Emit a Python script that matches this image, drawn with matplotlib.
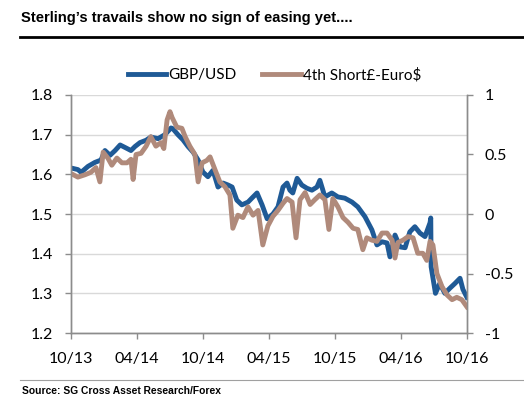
import pandas as pd
import matplotlib
matplotlib.use("Agg")
import matplotlib.pyplot as plt
import matplotlib.dates as mdates
from matplotlib.ticker import FormatStrFormatter, FixedLocator

plt.rcParams['axes.unicode_minus'] = False

# --- data ---
gbp_dates = [
    "2013-10-01", "2013-10-20", "2013-10-29", "2013-11-17", "2013-12-06", "2013-12-23",
    "2014-01-03", "2014-01-17", "2014-01-31", "2014-02-14", "2014-02-27", "2014-03-16",
    "2014-03-27", "2014-04-10", "2014-04-27", "2014-05-10", "2014-05-30", "2014-06-18",
    "2014-07-05", "2014-07-10", "2014-07-24", "2014-08-07", "2014-08-21", "2014-09-04",
    "2014-09-18", "2014-10-01", "2014-10-15", "2014-10-29", "2014-11-12", "2014-11-26",
    "2014-12-10", "2014-12-21", "2015-01-03", "2015-01-17", "2015-02-03", "2015-02-17",
    "2015-02-28", "2015-03-14", "2015-03-28", "2015-04-13", "2015-04-27", "2015-05-11",
    "2015-05-22", "2015-05-30", "2015-06-07", "2015-06-19", "2015-07-02", "2015-07-16",
    "2015-07-30", "2015-08-13", "2015-08-21", "2015-09-04", "2015-09-23", "2015-10-10",
    "2015-10-29", "2015-11-18", "2015-12-04", "2015-12-24", "2016-01-12", "2016-01-26",
    "2016-02-09", "2016-02-23", "2016-03-02", "2016-03-16", "2016-03-30", "2016-04-13",
    "2016-04-26", "2016-05-10", "2016-05-24", "2016-06-07", "2016-06-21", "2016-06-23",
    "2016-06-24", "2016-07-06", "2016-07-18", "2016-08-01", "2016-08-15", "2016-08-29",
    "2016-09-12", "2016-09-20", "2016-10-01",
]
gbp_usd = [
    1.616, 1.612, 1.605, 1.620, 1.630, 1.636,
    1.660, 1.648, 1.660, 1.674, 1.668, 1.660,
    1.670, 1.680, 1.686, 1.694, 1.690, 1.700,
    1.717, 1.715, 1.700, 1.687, 1.670, 1.656,
    1.636, 1.606, 1.594, 1.610, 1.568, 1.578,
    1.573, 1.568, 1.535, 1.523, 1.530, 1.543,
    1.553, 1.523, 1.488, 1.500, 1.518, 1.568,
    1.578, 1.560, 1.553, 1.590, 1.573, 1.565,
    1.560, 1.568, 1.585, 1.543, 1.553, 1.543,
    1.540, 1.530, 1.518, 1.493, 1.460, 1.422,
    1.430, 1.427, 1.392, 1.447, 1.417, 1.415,
    1.455, 1.468, 1.452, 1.443, 1.478, 1.490,
    1.367, 1.300, 1.325, 1.300, 1.313, 1.325,
    1.338, 1.310, 1.290,
]

spread_dates = [
    "2013-10-01", "2013-10-20", "2013-11-09", "2013-11-25", "2013-12-09", "2013-12-20",
    "2013-12-29", "2014-01-11", "2014-01-22", "2014-02-05", "2014-02-19", "2014-03-05",
    "2014-03-16", "2014-03-22", "2014-03-30", "2014-04-13", "2014-04-27", "2014-05-10",
    "2014-05-24", "2014-06-07", "2014-06-15", "2014-06-24", "2014-07-02", "2014-07-08",
    "2014-07-21", "2014-08-04", "2014-08-13", "2014-08-26", "2014-09-09", "2014-09-18",
    "2014-09-29", "2014-10-12", "2014-10-21", "2014-11-04", "2014-11-17", "2014-12-01",
    "2014-12-15", "2014-12-23", "2015-01-06", "2015-01-20", "2015-02-03", "2015-02-17",
    "2015-03-03", "2015-03-16", "2015-03-30", "2015-04-13", "2015-04-27", "2015-05-11",
    "2015-05-22", "2015-06-05", "2015-06-16", "2015-06-27", "2015-07-11", "2015-07-25",
    "2015-08-07", "2015-08-21", "2015-09-04", "2015-09-15", "2015-09-26", "2015-10-10",
    "2015-10-24", "2015-11-07", "2015-11-21", "2015-12-04", "2015-12-18", "2015-12-29",
    "2016-01-12", "2016-01-26", "2016-02-09", "2016-02-23", "2016-03-08", "2016-03-16",
    "2016-03-24", "2016-04-07", "2016-04-21", "2016-05-05", "2016-05-18", "2016-06-01",
    "2016-06-12", "2016-06-21", "2016-06-29", "2016-07-10", "2016-07-24", "2016-08-07",
    "2016-08-21", "2016-09-03", "2016-09-17", "2016-10-01",
]
short_spread = [
    0.34, 0.31, 0.33, 0.35, 0.39, 0.27,
    0.52, 0.47, 0.41, 0.47, 0.43, 0.43,
    0.46, 0.29, 0.50, 0.51, 0.57, 0.65,
    0.57, 0.60, 0.55, 0.79, 0.86, 0.81,
    0.73, 0.72, 0.65, 0.57, 0.50, 0.27,
    0.43, 0.45, 0.48, 0.37, 0.27, 0.23,
    0.16, -0.12, -0.01, -0.03, 0.06, -0.01,
    0.03, -0.26, -0.10, -0.02, 0.03, 0.09,
    0.13, 0.10, -0.20, 0.12, 0.18, 0.08,
    0.12, 0.16, 0.12, -0.13, 0.13, 0.06,
    -0.03, -0.07, -0.12, -0.13, -0.30, -0.20,
    -0.22, -0.23, -0.16, -0.16, -0.22, -0.37,
    -0.24, -0.22, -0.19, -0.20, -0.33, -0.33,
    -0.39, -0.23, -0.26, -0.50, -0.61, -0.68,
    -0.72, -0.70, -0.72, -0.78,
]

x_ticks = ["2013-10-01", "2014-04-01", "2014-10-01", "2015-04-01",
           "2015-10-01", "2016-04-01", "2016-10-01"]

BLUE = "#1F5A96"
BROWN = "#B08A7B"
GREY = "#8C8C8C"

fig = plt.figure(figsize=(5.24, 4.07), dpi=100)
ax = fig.add_axes([0.1355, 0.1818, 0.7555, 0.5848])
ax2 = ax.twinx()

ax.plot(pd.to_datetime(gbp_dates), gbp_usd, color=BLUE, lw=3.5, label="GBP/USD",
        solid_joinstyle="round")
ax2.plot(pd.to_datetime(spread_dates), short_spread, color=BROWN, lw=3.5,
         label="4th Short£-Euro$", solid_joinstyle="round")

ax.set_xlim(pd.Timestamp("2013-10-01"), pd.Timestamp("2016-10-01"))
ax.set_ylim(1.2, 1.8)
ax2.set_ylim(-1, 1)

ax.yaxis.set_major_locator(FixedLocator([1.2, 1.3, 1.4, 1.5, 1.6, 1.7, 1.8]))
ax.yaxis.set_major_formatter(FormatStrFormatter("%.1f"))
ax2.yaxis.set_major_locator(FixedLocator([-1, -0.5, 0, 0.5, 1]))
ax2.yaxis.set_major_formatter(FormatStrFormatter("%g"))
ax.xaxis.set_major_locator(FixedLocator(mdates.date2num(pd.to_datetime(x_ticks))))
ax.xaxis.set_major_formatter(mdates.DateFormatter("%m/%y"))

ax.grid(axis="y", color="#D9D9D9", lw=1)
ax.set_axisbelow(True)

for a in (ax, ax2):
    a.spines["top"].set_visible(False)
    for s in ("left", "right", "bottom"):
        a.spines[s].set_color(GREY)
        a.spines[s].set_linewidth(1)

font = "Lato"
ax.tick_params(axis="both", colors=GREY, length=4, width=1, labelsize=11.5,
               labelcolor="black", pad=9)
ax.tick_params(axis="x", pad=10)
ax2.tick_params(axis="y", colors=GREY, length=4, width=1, labelsize=11.5,
                labelcolor="black", pad=9)
for lab in ax.get_xticklabels() + ax.get_yticklabels() + ax2.get_yticklabels():
    lab.set_fontfamily(font)

h1, l1 = ax.get_legend_handles_labels()
h2, l2 = ax2.get_legend_handles_labels()
fig.legend(h1 + h2, l1 + l2, loc="center", bbox_to_anchor=(0.524, 0.816), ncol=2,
           frameon=False, handlelength=2.5, handletextpad=0.15, columnspacing=1.7,
           prop={"family": font, "size": 11})

# header / footer
fig.text(0.040, 0.956, "Sterling\u2019s travails show no sign of easing yet....",
         fontsize=10.6, fontweight="bold", family="Liberation Sans", va="center")
fig.add_artist(plt.Line2D([0.038, 1.0], [0.909, 0.909], color="black", lw=2))
fig.add_artist(plt.Line2D([0.038, 1.0], [0.066, 0.066], color="#A0A0A0", lw=0.8))
fig.text(0.042, 0.040, "Source: SG Cross Asset Research/Forex", fontsize=7.4,
         fontweight="bold", family="Liberation Sans", va="center")

fig.savefig("out.png", dpi=100)
